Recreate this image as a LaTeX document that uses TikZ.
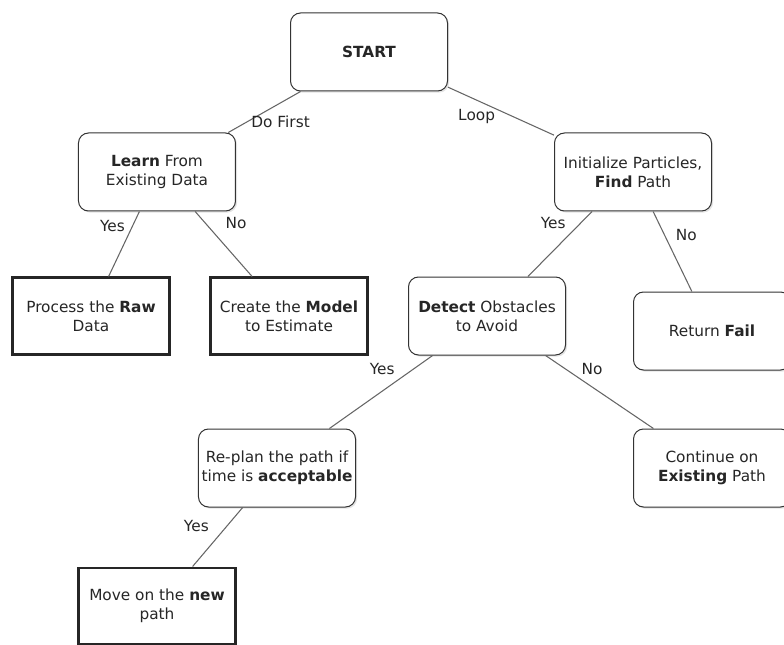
\documentclass[tikz,border=0pt]{standalone}
\usepackage{fontspec}
\setmainfont{DejaVu Sans}
\usetikzlibrary{positioning,shadows}

\begin{document}
\begin{tikzpicture}[node distance = 48.75pt,
        every node/.style = {font=\fontsize{11.5}{14.5}\selectfont, text=black!85},
        decision/.style = {draw=black!80, line width=0.75pt, rounded corners=7.5pt, fill=white,
            minimum width=117.75pt, minimum height=58.5pt, align=center, inner sep=1pt,
            drop shadow={shadow xshift=1.2pt, shadow yshift=-1.2pt, opacity=0.22}},
        action/.style = {draw=black!85, line width=1.8pt, fill=white,
            minimum width=117.5pt, minimum height=57.5pt, align=center, inner sep=1pt,
            drop shadow={shadow xshift=1pt, shadow yshift=-1pt, opacity=0.18}},
        link/.style = {draw=black!60, line width=0.8pt},
        lbl/.style = {inner sep=0pt}]

        \useasboundingbox (-276.75pt,39pt) rectangle (311.25pt,-444.75pt);

        \node[decision] (start) at (0,0) {\textbf{START}};

        \node[decision, below=30.75pt of start, xshift=-159pt] (learn) {\textbf{Learn} From\\Existing Data};
        \node[decision, below=30.75pt of start, xshift=198pt] (init) {Initialize Particles,\\\textbf{Find} Path};

        \node[action, below=of learn, xshift=-49.5pt] (raw) {Process the \textbf{Raw}\\Data};
        \node[action, below=of learn, xshift=99pt] (model) {Create the \textbf{Model}\\to Estimate};

        \node[decision, below=of init, xshift=-109.5pt] (detect) {\textbf{Detect} Obstacles\\to Avoid};
        \node[decision, below=60pt of init, xshift=59.25pt] (fail) {Return \textbf{Fail}};

        \node[decision, below=54.75pt of detect, xshift=-157.5pt] (replan) {Re-plan the path if\\time is \textbf{acceptable}};
        \node[decision, below=54.75pt of detect, xshift=168.75pt] (cont) {Continue on\\\textbf{Existing} Path};

        \node[action, below=44.25pt of replan, xshift=-90pt] (move) {Move on the \textbf{new}\\path};

        \draw[link] (start.210) -- node[lbl, pos=0.73, xshift=24.6pt] {Do First} (learn.29);
        \draw[link] (start.-24.5) -- node[lbl, pos=0.27, yshift=-12.5pt] {Loop} (init.155);

        \draw[link] (learn.-114) -- node[lbl, pos=0.23, xshift=-14.9pt] {Yes} (raw.66);
        \draw[link] (learn.-46) -- node[lbl, pos=0.17, xshift=23.4pt] {No} (model.133);

        \draw[link] (init.-136) -- node[lbl, pos=0.17, xshift=-21pt] {Yes} (detect.44);
        \draw[link] (init.-63) -- node[lbl, pos=0.29, xshift=16.4pt] {No} (fail.117);

        \draw[link] (detect.-144) -- node[lbl, pos=0.18, xshift=-23.9pt] {Yes} (replan.37);
        \draw[link] (detect.-34) -- node[lbl, pos=0.18, xshift=20.3pt] {No} (cont.146);

        \draw[link] (replan.-131) -- node[lbl, pos=0.32, xshift=-22.7pt] {Yes} (move.48);

    \end{tikzpicture}
\end{document}
